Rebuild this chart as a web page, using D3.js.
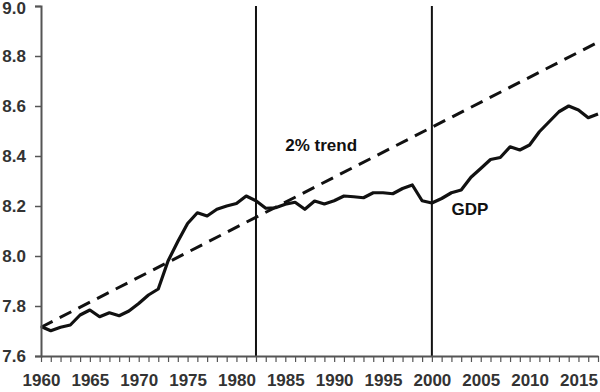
<!DOCTYPE html>
<html>
<head>
<meta charset="utf-8">
<script src="https://cdn.jsdelivr.net/npm/d3@7"></script>
<style>
  html, body { margin: 0; padding: 0; background: #fff; }
  svg { display: block; font-family: "Liberation Sans", Arial, Helvetica, sans-serif; }
</style>
</head>
<body>
<svg id="chart" width="600" height="392"></svg>
<script>
// ---- data ----
const years = d3.range(1960, 2018);
const gdp = [
  7.718, 7.701, 7.715, 7.724, 7.764, 7.784, 7.757, 7.773, 7.761, 7.780,
  7.810, 7.844, 7.868, 7.980, 8.058, 8.130, 8.173, 8.160, 8.187, 8.200,
  8.210, 8.240, 8.221, 8.191, 8.193, 8.207, 8.215, 8.187, 8.220, 8.208,
  8.221, 8.240, 8.237, 8.233, 8.253, 8.253, 8.249, 8.270, 8.284, 8.221,
  8.212, 8.230, 8.253, 8.264, 8.315, 8.350, 8.386, 8.394, 8.437, 8.424,
  8.444, 8.497, 8.537, 8.577, 8.600, 8.584, 8.553, 8.568
];
const trendYears = [1960, 2017];
const trendValues = [7.715, 8.855];
const markerYears = [1982, 2000];
const yTicks = [7.6, 7.8, 8.0, 8.2, 8.4, 8.6, 8.8, 9.0];
const xLabelYears = [1960, 1965, 1970, 1975, 1980, 1985, 1990, 1995, 2000, 2005, 2010, 2015];
const annotations = [
  { text: "2% trend", year: 1985, value: 8.42 },
  { text: "GDP", year: 2002, value: 8.164 }
];

// ---- layout ----
const svg = d3.select("#chart");
const x = d3.scaleLinear().domain([1960, 2017]).range([41, 598]);
const y = d3.scaleLinear().domain([7.6, 9.0]).range([356, 6]);

const axisColor = "#555";
const labelColor = "#333";

// vertical marker lines
svg.selectAll("line.marker").data(markerYears).enter().append("line")
  .attr("class", "marker")
  .attr("x1", d => x(d)).attr("x2", d => x(d))
  .attr("y1", y(9.0)).attr("y2", y(7.6))
  .attr("stroke", "#111").attr("stroke-width", 2);

// trend (dashed)
const trendData = trendYears.map((yr, i) => ({ year: yr, v: trendValues[i] }));
svg.append("path")
  .datum(trendData)
  .attr("fill", "none")
  .attr("stroke", "#111")
  .attr("stroke-width", 3)
  .attr("stroke-dasharray", "13,8")
  .attr("d", d3.line().x(d => x(d.year)).y(d => y(d.v)));

// GDP line
const gdpData = years.map((yr, i) => ({ year: yr, v: gdp[i] }));
svg.append("path")
  .datum(gdpData)
  .attr("fill", "none")
  .attr("stroke", "#111")
  .attr("stroke-width", 3.2)
  .attr("stroke-linejoin", "round")
  .attr("d", d3.line().x(d => x(d.year)).y(d => y(d.v)));

// y axis
const yAxis = svg.append("g")
  .attr("transform", `translate(${x(1960)},0)`)
  .call(d3.axisLeft(y).tickValues(yTicks).tickFormat(d3.format(".1f")).tickSize(6).tickPadding(9));
yAxis.select(".domain").attr("stroke", axisColor).attr("stroke-width", 2);
yAxis.selectAll(".tick line").attr("stroke", axisColor).attr("stroke-width", 1.5);
yAxis.selectAll(".tick text").attr("fill", labelColor)
  .style("font-size", "17px").style("font-weight", "bold")
  .attr("dy", d => d === 9.0 ? "0.45em" : "0.32em");

// x axis
const xAxis = svg.append("g")
  .attr("transform", `translate(0,${y(7.6)})`)
  .call(d3.axisBottom(x).tickValues(years).tickFormat(d => xLabelYears.includes(d) ? String(d) : "").tickSize(6).tickPadding(12).tickSizeOuter(0));
xAxis.select(".domain").attr("stroke", axisColor).attr("stroke-width", 2);
xAxis.selectAll(".tick line").attr("stroke", axisColor).attr("stroke-width", 1.2);
xAxis.selectAll(".tick text").attr("fill", labelColor)
  .style("font-size", "17px").style("font-weight", "bold");

// annotations
svg.selectAll("text.anno").data(annotations).enter().append("text")
  .attr("class", "anno")
  .attr("x", d => x(d.year))
  .attr("y", d => y(d.value))
  .attr("fill", "#111")
  .style("font-size", "17px").style("font-weight", "bold")
  .text(d => d.text);
</script>
</body>
</html>
